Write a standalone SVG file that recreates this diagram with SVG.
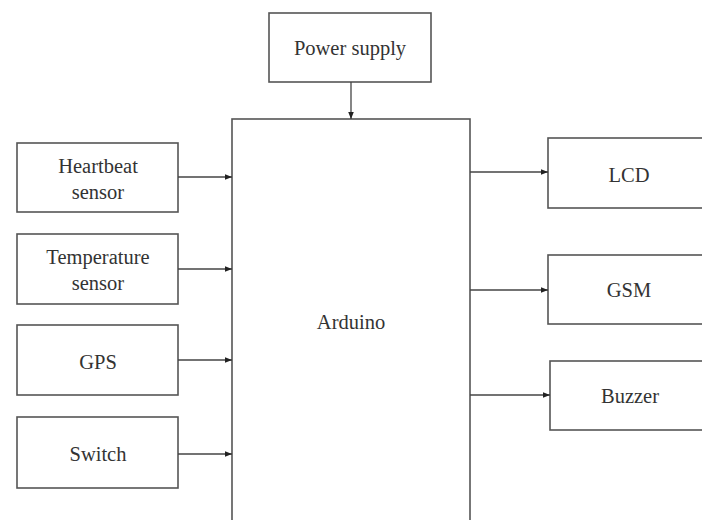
<svg xmlns="http://www.w3.org/2000/svg" width="702" height="520" viewBox="0 0 702 520">
<defs>
<style>
.box{fill:#fff;stroke:#555;stroke-width:1.6}
.t{font-family:"Liberation Serif","Times New Roman",serif;font-size:20.5px;fill:#333;text-anchor:middle}
.c{stroke:#444;stroke-width:1.3;fill:none;marker-end:url(#ah)}
</style>
<marker id="ah" viewBox="0 0 10 10" refX="10" refY="5" markerWidth="7" markerHeight="7" markerUnits="userSpaceOnUse" orient="auto">
<path d="M0,1 L10,5 L0,9 z" fill="#222"/>
</marker>
</defs>
<rect width="702" height="520" fill="#fff"/>
<g id="power"><rect class="box" x="269" y="13" width="162" height="69"/><text class="t" x="350" y="55">Power supply</text></g>
<g id="arduino"><rect class="box" x="232" y="119" width="238" height="420"/><text class="t" x="351" y="329">Arduino</text></g>
<g id="heartbeat"><rect class="box" x="17" y="143" width="161" height="69"/><text class="t" x="98" y="173">Heartbeat</text><text class="t" x="98" y="199">sensor</text></g>
<g id="temperature"><rect class="box" x="17" y="234" width="161" height="70"/><text class="t" x="98" y="264">Temperature</text><text class="t" x="98" y="290">sensor</text></g>
<g id="gps"><rect class="box" x="17" y="325" width="161" height="70"/><text class="t" x="98" y="369">GPS</text></g>
<g id="switch"><rect class="box" x="17" y="417" width="161" height="71"/><text class="t" x="98" y="461">Switch</text></g>
<g id="lcd"><rect class="box" x="548" y="138" width="160" height="70"/><text class="t" x="629" y="182">LCD</text></g>
<g id="gsm"><rect class="box" x="548" y="255" width="160" height="69"/><text class="t" x="629" y="297">GSM</text></g>
<g id="buzzer"><rect class="box" x="550" y="361" width="160" height="69"/><text class="t" x="630" y="403">Buzzer</text></g>
<g id="connectors">
<line class="c" x1="351" y1="82" x2="351" y2="119"/>
<line class="c" x1="178" y1="177" x2="232" y2="177"/>
<line class="c" x1="178" y1="269" x2="232" y2="269"/>
<line class="c" x1="178" y1="360" x2="232" y2="360"/>
<line class="c" x1="178" y1="454" x2="232" y2="454"/>
<line class="c" x1="470" y1="172" x2="548" y2="172"/>
<line class="c" x1="470" y1="290" x2="548" y2="290"/>
<line class="c" x1="470" y1="395" x2="550" y2="395"/>
</g>
</svg>
